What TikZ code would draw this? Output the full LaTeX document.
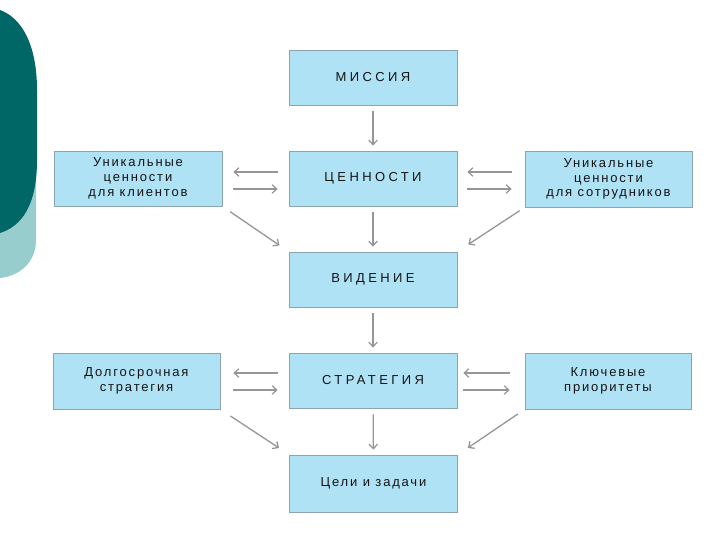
\documentclass[tikz,border=0pt]{standalone}
\usepackage{fontspec}
\setmainfont{Liberation Sans}[LetterSpace=14]
\newfontfamily\capsfont{Liberation Sans}[LetterSpace=26]
\usetikzlibrary{arrows.meta}
\definecolor{boxfill}{RGB}{176,226,245}
\definecolor{boxline}{RGB}{140,165,175}
\definecolor{arrgray}{RGB}{150,150,150}
\definecolor{darkteal}{RGB}{0,102,102}
\definecolor{lightteal}{RGB}{152,205,205}
\definecolor{txt}{RGB}{20,20,20}
\begin{document}
\begin{tikzpicture}[x=1pt,y=-1pt,
  box/.style={draw=boxline, fill=boxfill, line width=0.8pt, minimum width=168pt,
    minimum height=55pt, align=center, inner sep=0pt, text=txt,
    font=\fontsize{13}{14.8}\selectfont},
  capbox/.style={box, font=\capsfont\fontsize{13}{14.8}\selectfont},
  arr/.style={draw=arrgray, line width=1.3pt, -{Straight Barb[length=4.5pt,width=8.5pt]}}]
\useasboundingbox (0,0) rectangle (720,540);
% decoration
\fill[lightteal] (0,150) -- (36,150) -- (36,240) .. controls (36,262) and (20,276) .. (0,278) -- cycle;
\fill[darkteal] (0,10) .. controls (22,18) and (37,45) .. (37,90) -- (37,160)
  .. controls (37,205) and (22,226) .. (0,233) -- cycle;
% boxes
\node[capbox] (mis) at (373,77.5) {МИССИЯ};
\node[capbox] (val) at (373,178.5) {ЦЕННОСТИ};
\node[capbox] (vis) at (373,279.5) {ВИДЕНИЕ};
\node[capbox] (str) at (373,380.5) {СТРАТЕГИЯ};
\node[box, minimum height=57pt] (goal) at (373.5,483.5) {Цели и задачи};
\node[box] (lc) at (138,178.5) {Уникальные\\ценности\\для клиентов};
\node[box, minimum width=167pt, minimum height=56pt] (lcl) at (136.5,381) {Долгосрочная\\стратегия};
\node[box, minimum width=167pt, minimum height=56pt] (rc) at (608.5,179) {Уникальные\\ценности\\для сотрудников};
\node[box, minimum width=166pt, minimum height=56pt] (rcl) at (608,381) {Ключевые\\приоритеты};
% vertical arrows
\draw[arr, shorten <=6pt, shorten >=5pt] (mis) -- (val);
\draw[arr, shorten <=6pt, shorten >=5pt] (val) -- (vis);
\draw[arr, shorten <=6pt, shorten >=5pt] (vis) -- (str);
\draw[arr, shorten <=6pt, shorten >=5pt] (str) -- (goal);
% horizontal arrows, upper row
\draw[arr, shorten <=11pt, shorten >=11pt] ([yshift=6.5pt]val.west) -- ([yshift=6.5pt]lc.east);
\draw[arr, shorten <=11pt, shorten >=11pt] ([yshift=-10.5pt]lc.east) -- ([yshift=-10.5pt]val.west);
\draw[arr, shorten <=13pt, shorten >=10pt] ([yshift=7pt]rc.west) -- ([yshift=6.5pt]val.east);
\draw[arr, shorten <=10pt, shorten >=13pt] ([yshift=-10.5pt]val.east) -- ([yshift=-10pt]rc.west);
% horizontal arrows, lower row
\draw[arr, shorten <=11pt, shorten >=13pt] ([yshift=7.5pt]str.west) -- ([yshift=8pt]lcl.east);
\draw[arr, shorten <=13pt, shorten >=11pt] ([yshift=-9pt]lcl.east) -- ([yshift=-9.5pt]str.west);
\draw[arr, shorten <=15pt, shorten >=6pt] ([yshift=8pt]rcl.west) -- ([yshift=7.5pt]str.east);
\draw[arr, shorten <=6pt, shorten >=15pt] ([yshift=-9.5pt]str.east) -- ([yshift=-9pt]rcl.west);
% diagonal arrows
\draw[arr, shorten <=9.5pt, shorten >=11pt] (lc.south east) -- (vis.north west);
\draw[arr, shorten <=6pt, shorten >=13pt] (rc.south west) -- (vis.north east);
\draw[arr, shorten <=12pt, shorten >=12pt] (lcl.south east) -- (goal.north west);
\draw[arr, shorten <=8pt, shorten >=12pt] (rcl.south west) -- (goal.north east);
\end{tikzpicture}
\end{document}
